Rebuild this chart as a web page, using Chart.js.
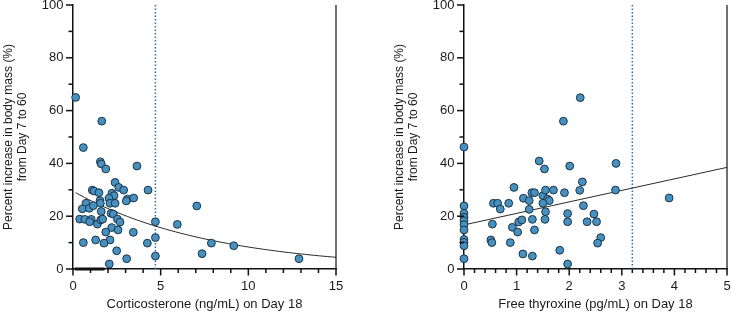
<!DOCTYPE html>
<html><head><meta charset="utf-8">
<script src="https://cdn.jsdelivr.net/npm/chart.js@4.4.1/dist/chart.umd.min.js"></script>
<style>
html,body{margin:0;padding:0;background:#fff;}
#wrap{position:relative;width:732px;height:313px;overflow:hidden;}
.c{position:absolute;top:0;width:366px;height:313px;}
</style></head><body>
<div id="wrap">
<div class="c" style="left:0"><canvas id="c1" width="366" height="313"></canvas></div>
<div class="c" style="left:366px"><canvas id="c2" width="366" height="313"></canvas></div>
</div>
<script>
// ---- Left panel: corticosterone ----
const cortX = [0.15,1.64,0.59,1.56,1.61,1.87,3.65,2.40,2.61,2.89,1.10,1.20,1.48,2.22,2.34,4.28,2.05,3.10,3.46,3.04,
  1.54,1.56,2.11,2.40,0.74,0.53,0.93,1.16,1.61,2.17,2.30,0.38,0.67,1.04,1.39,1.58,1.69,2.53,2.68,0.95,
  2.21,2.57,1.87,3.44,4.7,2.11,1.29,0.59,1.77,4.24,4.7,2.49,3.06,4.7,2.07,5.95,7.06,7.89,7.36,9.17,12.89];
const cortY = [65,56,46,40.6,39.8,37.9,39,32.8,30.9,29.9,29.9,29.5,28.9,28.7,27.8,29.9,26.8,26.5,26.9,25.8,
  25.9,24.9,24.9,24.9,24.9,22.8,23,24,21.8,21.1,20.8,18.9,18.8,18.8,17,18.6,18.9,18.9,17.8,17.9,
  15.7,14.8,14,13.9,17.9,11,11,10,9.8,9.8,11.9,6.9,3.9,4.9,1.9,16.9,23.9,9.8,5.8,8.8,3.9];
const cortXTicks = [0,5,10,15];
const cortCutoff = 4.7;
const cortFitA = 29.45, cortFitK = 0.1263;   // exponential fit y = A*exp(-K*x)
const cortBaseX = [0.1, 1.8];                 // heavy segment on the x axis

// ---- Right panel: free thyroxine ----
const t4X = [0,0,0,0,0,0,0,0,0,0,0,
  1.43,1.53,0.95,0.56,0.64,0.69,0.85,0.54,0.51,0.53,0.88,0.92,1.02,1.04,1.10,1.12,1.30,1.13,1.24,1.24,
  1.30,1.34,1.29,1.34,1.50,1.55,1.55,1.54,1.59,1.62,1.50,1.70,2.01,2.89,2.25,2.20,1.91,2.88,2.27,1.97,
  2.47,1.97,2.34,2.52,2.60,2.54,1.82,1.97,2.21,3.90,1.89];
const t4Y = [46.2,23.9,21.1,19.6,18.3,16.8,14.8,11.2,10.1,8.8,3.9,
  40.9,37.9,30.9,24.9,24.9,22.7,24.9,17,11,10,10,15.8,14,17.8,18.6,5.7,4.9,26.8,25.9,22.6,
  18.8,14.8,28.9,28.9,27.8,29.9,21.7,18.8,26.5,25.9,24.9,29.9,39,40,33,29.8,28.9,29.9,24,21,
  20.8,17.9,17.9,17.9,11.9,9.8,7.1,1.9,64.9,26.9,56];
const t4XTicks = [0,1,2,3,4,5];
const t4Cutoff = 3.2;
const t4FitB0 = 16.7, t4FitB1 = 4.36;         // linear fit y = b0 + b1*x

const yTicks = [0,20,40,60,80,100];
const yTitle = ['Percent increase in body mass (%)','from Day 7 to 60'];

const FONT = "'Liberation Sans', Arial, sans-serif";
const TXT = '#1a1a1a';
const PT_FILL = '#4791c0', PT_EDGE = '#1b3346';

function near(v, arr){ return arr.some(a => Math.abs(a - v) < 1e-6); }

function makeTickPlugin(cfg) {
  return {
    id: 'axisTicks_' + cfg.id,
    afterDraw(chart) {
      const ctx = chart.ctx, a = chart.chartArea;
      const xs = chart.scales.x, ys = chart.scales.y;
      ctx.save();
      ctx.setLineDash([]);
      ctx.strokeStyle = '#111'; ctx.lineWidth = 1.5;
      const nx = Math.round(cfg.xMax / cfg.xStep);
      for (let i = 0; i <= nx; i++) {
        const v = i * cfg.xStep;
        const major = near(v, cfg.xTicks);
        const p = xs.getPixelForValue(v);
        ctx.beginPath(); ctx.moveTo(p, a.bottom); ctx.lineTo(p, a.bottom + (major ? 6.5 : 4)); ctx.stroke();
      }
      for (let i = 0; i <= 10; i++) {
        const v = i * 10;
        const major = near(v, yTicks);
        const p = ys.getPixelForValue(v);
        ctx.beginPath(); ctx.moveTo(a.left, p); ctx.lineTo(a.left - (major ? 7 : 4.5), p); ctx.stroke();
      }
      ctx.lineWidth = 1.2;
      ctx.beginPath(); ctx.moveTo(a.right, a.top); ctx.lineTo(a.right, a.bottom); ctx.stroke();
      ctx.restore();
    }
  };
}

function makeChart(id, cfg) {
  const datasets = [
    { data: cfg.xs.map((x, i) => ({x, y: cfg.ys[i]})), pointRadius: 3.9, pointBorderWidth: 1,
      pointBackgroundColor: PT_FILL, pointBorderColor: PT_EDGE, showLine: false, clip: false },
    { data: cfg.fit, showLine: true, pointRadius: 0, borderColor: '#2a2a2a', borderWidth: 1, clip: false },
    { data: [{x: cfg.cut, y: 0}, {x: cfg.cut, y: 100}], showLine: true, pointRadius: 0,
      borderColor: '#2f6fa8', borderWidth: 1.5, borderDash: [1.5, 2], clip: false }
  ];
  if (cfg.base) datasets.push({ data: cfg.base.map(x => ({x, y: 0})), showLine: true, pointRadius: 0,
      borderColor: '#111', borderWidth: 3, clip: false });
  return new Chart(document.getElementById(id), {
    type: 'scatter',
    data: { datasets },
    plugins: [makeTickPlugin(cfg)],
    options: {
      responsive: false, animation: false, devicePixelRatio: 1,
      layout: { padding: { top: 5, left: 0, right: cfg.padRight, bottom: 0 } },
      plugins: { legend: { display: false }, tooltip: { enabled: false } },
      scales: {
        x: {
          type: 'linear', min: 0, max: cfg.xMax,
          afterFit: s => { s.height = 44; s.paddingLeft = 0; s.paddingRight = 0; },
          grid: { display: false, drawTicks: false },
          border: { display: true, color: '#111', width: 1.5 },
          ticks: { stepSize: cfg.xStep, autoSkip: false, maxRotation: 0, padding: 10, color: TXT,
            font: { family: FONT, size: 13 },
            callback: v => near(v, cfg.xTicks) ? String(Math.round(v)) : '' },
          title: { display: true, text: cfg.xTitle, color: TXT, font: { family: FONT, size: 13 },
            padding: { top: 0, bottom: 1 } }
        },
        y: {
          type: 'linear', min: 0, max: 100,
          afterFit: s => { s.width = cfg.yWidth; s.paddingTop = 0; s.paddingBottom = 0; },
          grid: { display: false, drawTicks: false },
          border: { display: true, color: '#111', width: 1.5 },
          ticks: { stepSize: 10, autoSkip: false, padding: 9.5, color: TXT,
            font: { family: FONT, size: 13 },
            callback: v => near(v, yTicks) ? String(v) : '' },
          title: { display: true, text: yTitle, color: TXT, font: { family: FONT, size: 12 },
            padding: { top: cfg.titlePad, bottom: 0 } }
        }
      }
    }
  });
}

const cortMin = Math.min(...cortX);
const cortFit = [];
for (let i = 0; i <= 60; i++) { const x = cortMin + (15 - cortMin) * i / 60; cortFit.push({x, y: cortFitA * Math.exp(-cortFitK * x)}); }
const t4Fit = [0, 5].map(x => ({x, y: t4FitB0 + t4FitB1 * x}));

makeChart('c1', { id: 1, xs: cortX, ys: cortY, fit: cortFit, cut: cortCutoff, base: cortBaseX, xMax: 15, xStep: 1,
  xTicks: cortXTicks, xTitle: 'Corticosterone (ng/mL) on Day 18', yWidth: 73, padRight: 30, titlePad: 1.5 });
makeChart('c2', { id: 2, xs: t4X, ys: t4Y, fit: t4Fit, cut: t4Cutoff, base: null, xMax: 5, xStep: 0.2,
  xTicks: t4XTicks, xTitle: 'Free thyroxine (pg/mL) on Day 18', yWidth: 98, padRight: 4, titlePad: 26.5 });
</script>
</body></html>
